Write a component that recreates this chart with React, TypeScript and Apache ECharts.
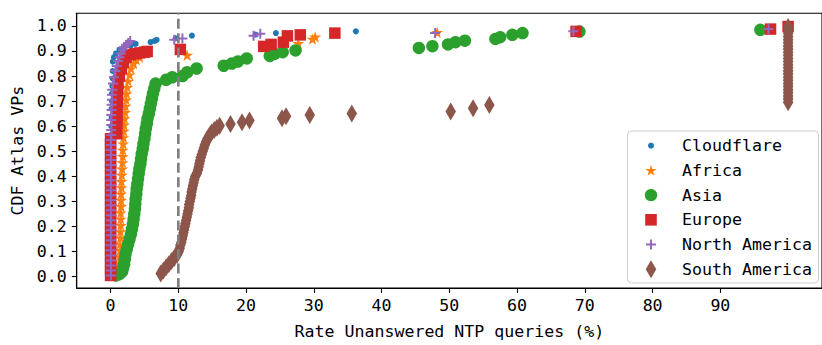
import React, { useEffect, useRef } from "react";
import * as echarts from "echarts";

// ---------- data ----------
const xTicks = [0, 10, 20, 30, 40, 50, 60, 70, 80, 90];
const yTicks = [0, 0.1, 0.2, 0.3, 0.4, 0.5, 0.6, 0.7, 0.8, 0.9, 1.0];
const xRange = [-5, 105];
const yRange = [-0.045, 1.05];
const threshold = 10;

const seriesNames = ["Cloudflare", "Africa", "Asia", "Europe", "North America", "South America"];

const cloudflare: [number, number][] = [
  [0.1, 0.005], [0.1, 0.04], [0.1, 0.075], [0.1, 0.11], [0.1, 0.145], [0.1, 0.18], [0.1, 0.215],
  [0.1, 0.25], [0.1, 0.285], [0.1, 0.32], [0.1, 0.355], [0.1, 0.39], [0.1, 0.425], [0.1, 0.46],
  [0.1, 0.495], [0.1, 0.53], [0.1, 0.565], [0.1, 0.6], [0.15, 0.635], [0.15, 0.67], [0.2, 0.7],
  [0.2, 0.73], [0.25, 0.76], [0.3, 0.79], [0.3, 0.82], [0.33, 0.857], [0.5, 0.875], [0.8, 0.89],
  [1.3, 0.905], [2.0, 0.915], [3.0, 0.922], [3.7, 0.928], [5.9, 0.935], [6.5, 0.94], [6.8, 0.944],
  [9.6, 0.95], [12.0, 0.961], [21.4, 0.965], [24.4, 0.971], [36.2, 0.978],
];

const africa: [number, number][] = [
  [0.5, 0.01], [0.9, 0.03], [1.3, 0.055], [1.35, 0.08], [1.4, 0.105], [1.4, 0.13], [1.45, 0.155],
  [1.45, 0.18], [1.5, 0.205], [1.5, 0.23], [1.5, 0.255], [1.55, 0.28], [1.55, 0.305], [1.55, 0.33],
  [1.6, 0.355], [1.6, 0.38], [1.65, 0.405], [1.7, 0.43], [1.75, 0.455], [1.8, 0.48], [1.8, 0.505],
  [1.85, 0.53], [1.9, 0.555], [1.95, 0.58], [2.0, 0.605], [2.05, 0.63], [2.15, 0.655], [2.2, 0.68],
  [2.3, 0.705], [2.35, 0.73], [2.45, 0.755], [2.6, 0.78], [2.8, 0.805], [3.0, 0.83], [3.4, 0.85],
  [3.8, 0.865], [4.3, 0.875], [11.3, 0.883], [27.7, 0.93], [29.8, 0.947], [30.2, 0.956], [48.2, 0.974],
];

const asia: [number, number][] = [
  [0.8, 0.005], [1.3, 0.01], [1.7, 0.02], [1.85, 0.035], [2.0, 0.05], [2.1, 0.07], [2.2, 0.09],
  [2.4, 0.11], [2.6, 0.13], [2.8, 0.15], [3.0, 0.17], [3.15, 0.19], [3.3, 0.21], [3.4, 0.23],
  [3.5, 0.25], [3.6, 0.27], [3.65, 0.29], [3.7, 0.31], [3.8, 0.33], [3.85, 0.35], [3.95, 0.37],
  [4.05, 0.39], [4.15, 0.41], [4.25, 0.43], [4.4, 0.45], [4.5, 0.47], [4.6, 0.49], [4.75, 0.51],
  [4.85, 0.53], [5.0, 0.55], [5.1, 0.57], [5.2, 0.59], [5.35, 0.61], [5.45, 0.63], [5.65, 0.65],
  [5.8, 0.67], [5.95, 0.69], [6.1, 0.71], [6.25, 0.73], [6.45, 0.75], [6.65, 0.77], [8.2, 0.785],
  [9.1, 0.795], [10.6, 0.8], [11.3, 0.815], [12.7, 0.83], [16.7, 0.841], [17.9, 0.85], [18.8, 0.858],
  [20.1, 0.87], [23.5, 0.88], [24.2, 0.888], [25.4, 0.895], [27.3, 0.902], [45.5, 0.912],
  [47.5, 0.919], [49.8, 0.926], [50.9, 0.935], [52.3, 0.941], [56.8, 0.948], [57.5, 0.955],
  [59.3, 0.964], [60.8, 0.971], [69.2, 0.977], [95.9, 0.984],
];

const europe: [number, number][] = [
  [0, 0.005], [0, 0.03], [0, 0.055], [0, 0.08], [0, 0.105], [0, 0.13], [0, 0.155], [0, 0.18],
  [0, 0.205], [0, 0.23], [0, 0.255], [0, 0.28], [0, 0.305], [0, 0.33], [0, 0.355], [0, 0.38],
  [0, 0.405], [0, 0.43], [0, 0.455], [0, 0.48], [0, 0.505], [0, 0.53], [0, 0.55], [0.9, 0.57],
  [0.9, 0.595], [0.95, 0.62], [0.95, 0.645], [0.95, 0.67], [1.0, 0.695], [1.0, 0.72], [1.05, 0.745],
  [1.1, 0.77], [1.3, 0.8], [1.6, 0.83], [1.9, 0.855], [2.3, 0.875], [2.9, 0.885], [3.6, 0.889],
  [4.3, 0.892], [5.0, 0.895], [5.4, 0.898], [10.3, 0.906], [22.6, 0.918], [23.7, 0.926],
  [25.5, 0.935], [26.1, 0.96], [28.0, 0.964], [33.1, 0.971], [68.7, 0.978], [97.4, 0.987], [100, 0.997],
];

const northAmerica: [number, number][] = [
  [0.05, 0.005], [0.05, 0.025], [0.05, 0.045], [0.05, 0.065], [0.05, 0.085], [0.05, 0.105],
  [0.05, 0.125], [0.05, 0.145], [0.05, 0.165], [0.05, 0.185], [0.05, 0.205], [0.05, 0.225],
  [0.05, 0.245], [0.05, 0.265], [0.05, 0.285], [0.05, 0.305], [0.05, 0.325], [0.05, 0.345],
  [0.05, 0.365], [0.05, 0.385], [0.05, 0.405], [0.05, 0.425], [0.05, 0.445], [0.05, 0.465],
  [0.05, 0.485], [0.05, 0.505], [0.05, 0.525], [0.05, 0.545], [0.1, 0.565], [0.1, 0.585],
  [0.1, 0.605], [0.1, 0.625], [0.1, 0.645], [0.15, 0.665], [0.15, 0.685], [0.2, 0.705],
  [0.2, 0.725], [0.25, 0.745], [0.35, 0.77], [0.5, 0.795], [0.7, 0.82], [0.9, 0.84], [1.1, 0.86],
  [1.3, 0.875], [1.5, 0.89], [1.8, 0.905], [2.0, 0.915], [2.3, 0.925], [2.6, 0.932], [2.9, 0.94],
  [9.4, 0.945], [10.6, 0.95], [21.1, 0.961], [22.1, 0.968], [47.9, 0.971], [68.3, 0.978], [97.1, 0.987],
];

const southAmerica: [number, number][] = [
  [7.4, 0.0125], [7.8, 0.025], [8.2, 0.0375], [8.6, 0.05], [9.0, 0.0625], [9.4, 0.075],
  [9.8, 0.0875], [10.05, 0.1], [10.2, 0.1125], [10.3, 0.125], [10.45, 0.1375], [10.55, 0.15],
  [10.65, 0.1625], [10.75, 0.175], [10.85, 0.1875], [10.95, 0.2], [11.05, 0.2125], [11.15, 0.225],
  [11.25, 0.2375], [11.35, 0.25], [11.45, 0.2625], [11.55, 0.275], [11.6, 0.2875], [11.7, 0.3],
  [11.8, 0.3125], [11.9, 0.325], [11.95, 0.3375], [12.05, 0.35], [12.15, 0.3625], [12.25, 0.375],
  [12.35, 0.3875], [12.5, 0.4], [12.75, 0.4125], [12.9, 0.425], [13.0, 0.4375], [13.1, 0.45],
  [13.2, 0.4625], [13.3, 0.475], [13.45, 0.4875], [13.6, 0.5], [13.75, 0.5125], [13.9, 0.525],
  [14.1, 0.5375], [14.3, 0.55], [14.6, 0.5625], [14.9, 0.575], [15.3, 0.585], [15.7, 0.594],
  [16.1, 0.602], [17.7, 0.609], [19.4, 0.616], [20.5, 0.623], [25.3, 0.632], [25.9, 0.64],
  [29.4, 0.645], [35.6, 0.651], [50.2, 0.659], [53.5, 0.672], [55.9, 0.684],
  [100, 0.695], [100, 0.708], [100, 0.72], [100, 0.733], [100, 0.745], [100, 0.758], [100, 0.77],
  [100, 0.783], [100, 0.795], [100, 0.808], [100, 0.82], [100, 0.833], [100, 0.845], [100, 0.858],
  [100, 0.87], [100, 0.883], [100, 0.895], [100, 0.908], [100, 0.92], [100, 0.933], [100, 0.945],
  [100, 0.958], [100, 0.97], [100, 0.983], [100, 0.995],
];

const seriesData = [cloudflare, africa, asia, europe, northAmerica, southAmerica];

// ---------- styles ----------
const colors = ["#1f77b4", "#ff7f0e", "#2ca02c", "#d62728", "#9467bd", "#8c564b"];
const FONT = "DejaVu Sans Mono";
const FS = 16.6;

function starPts(cx: number, cy: number, R: number, r: number): number[][] {
  const pts: number[][] = [];
  for (let i = 0; i < 10; i++) {
    const a = -Math.PI / 2 + (i * Math.PI) / 5;
    const rad = i % 2 === 0 ? R : r;
    pts.push([cx + rad * Math.cos(a), cy + rad * Math.sin(a)]);
  }
  return pts;
}
const starSymbol =
  "path://M" + starPts(10, 10, 10, 3.82).map((p) => p[0].toFixed(3) + "," + p[1].toFixed(3)).join("L") + "Z";
const plusSymbol = "path://M4,0L6,0L6,4L10,4L10,6L6,6L6,10L4,10L4,6L0,6L0,4L4,4Z";

const symbols = ["circle", starSymbol, "circle", "rect", plusSymbol, "diamond"];
const symbolSizes: (number | number[])[] = [6, 12, 12.5, 11.5, 10, [10.5, 18]];

function legendMarker(i: number, cx: number, cy: number): any {
  const fill = colors[i];
  switch (i) {
    case 0:
      return { type: "circle", shape: { cx, cy, r: 3 }, style: { fill } };
    case 1:
      return { type: "polygon", shape: { points: starPts(cx, cy + 0.5, 6, 2.3) }, style: { fill } };
    case 2:
      return { type: "circle", shape: { cx, cy, r: 6.2 }, style: { fill } };
    case 3:
      return { type: "rect", shape: { x: cx - 5.8, y: cy - 5.8, width: 11.6, height: 11.6 }, style: { fill } };
    case 4:
      return {
        type: "group",
        children: [
          { type: "rect", shape: { x: cx - 5, y: cy - 1, width: 10, height: 2 }, style: { fill } },
          { type: "rect", shape: { x: cx - 1, y: cy - 5, width: 2, height: 10 }, style: { fill } },
        ],
      };
    default:
      return {
        type: "polygon",
        shape: { points: [[cx, cy - 9], [cx + 5.3, cy], [cx, cy + 9], [cx - 5.3, cy]] },
        style: { fill },
      };
  }
}

export default function App() {
  const ref = useRef<HTMLDivElement>(null);
  useEffect(() => {
    if (!ref.current) return;
    const chart = echarts.init(ref.current, null, { renderer: "svg" });

    const legendX = 627.5;
    const legendY = 131;
    const rowH = 24.7;
    const firstRow = 145.7;
    const legendChildren: any[] = [
      {
        type: "rect",
        shape: { x: legendX, y: legendY, width: 191, height: 152, r: 4 },
        style: { fill: "rgba(255,255,255,0.8)", stroke: "#cccccc", lineWidth: 1 },
      },
    ];
    seriesNames.forEach((name, i) => {
      const cy = firstRow + i * rowH;
      legendChildren.push(legendMarker(i, 651, cy));
      legendChildren.push({
        type: "text",
        x: 682,
        y: cy,
        style: {
          text: name,
          fill: "#000",
          font: `${FS}px "${FONT}"`,
          verticalAlign: "middle",
          align: "left",
        },
      });
    });

    const option: any = {
      animation: false,
      backgroundColor: "#ffffff",
      grid: {
        left: 76.7,
        top: 13.3,
        width: 754,
        height: 280.7,
        show: true,
        borderColor: "#000",
        borderWidth: 1.1,
        backgroundColor: "transparent",
      },
      xAxis: {
        type: "value",
        min: xRange[0],
        max: xRange[1],
        name: "Rate Unanswered NTP queries (%)",
        nameLocation: "middle",
        nameGap: 35,
        nameTextStyle: { fontFamily: FONT, fontSize: FS, color: "#000" },
        axisLine: { onZero: false, lineStyle: { color: "#000", width: 1.1 } },
        axisTick: { show: true, length: 4.9, lineStyle: { color: "#000", width: 1.1 }, customValues: xTicks },
        axisLabel: {
          fontFamily: FONT,
          fontSize: FS,
          color: "#000",
          margin: 9,
          customValues: xTicks,
          formatter: (v: number) => String(v),
        },
        splitLine: { show: false },
      },
      yAxis: {
        type: "value",
        min: yRange[0],
        max: yRange[1],
        name: "CDF Atlas VPs",
        nameLocation: "middle",
        nameGap: 50,
        nameRotate: 90,
        nameTextStyle: { fontFamily: FONT, fontSize: FS, color: "#000" },
        axisLine: { show: true, onZero: false, lineStyle: { color: "#000", width: 1.1 } },
        axisTick: { show: true, length: 4.9, lineStyle: { color: "#000", width: 1.1 }, customValues: yTicks },
        axisLabel: {
          fontFamily: FONT,
          fontSize: FS,
          color: "#000",
          margin: 10,
          customValues: yTicks,
          formatter: (v: number) => v.toFixed(1),
        },
        splitLine: { show: false },
      },
      series: [
        ...seriesNames.map((name, i) => ({
          type: "scatter",
          name,
          data: seriesData[i],
          symbol: symbols[i],
          symbolSize: symbolSizes[i],
          symbolKeepAspect: i === 1,
          itemStyle: { color: colors[i], opacity: 1 },
          silent: true,
          clip: false,
          z: 2,
        })),
        {
          type: "line",
          name: "threshold",
          data: [
            [threshold, yRange[0]],
            [threshold, yRange[1]],
          ],
          symbol: "none",
          silent: true,
          lineStyle: { color: "#808080", width: 2.7, type: [10, 4.4] },
          z: 5,
        },
      ],
      graphic: [{ type: "group", z: 100, children: legendChildren }],
    };
    chart.setOption(option);
    return () => chart.dispose();
  }, []);

  return (
    <div
      ref={ref}
      style={{ position: "fixed", left: 0, top: 0, width: 822, height: 345, background: "#fff" }}
    />
  );
}
